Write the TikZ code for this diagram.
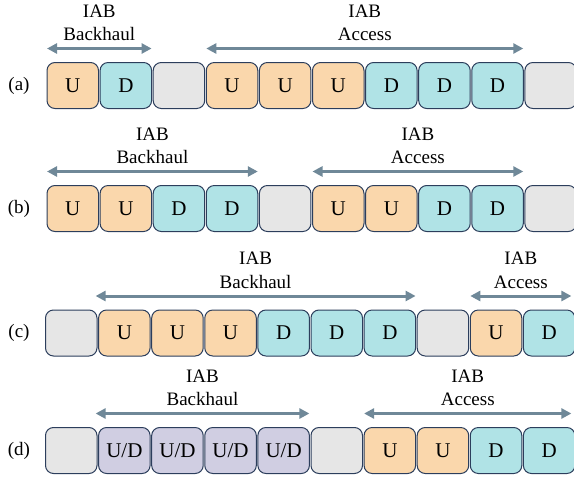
\documentclass[tikz,border=0pt]{standalone}
\usepackage{fontspec}
\setmainfont{Liberation Serif}
\usepackage{xcolor}
\usetikzlibrary{positioning, arrows.meta}

\definecolor{upfill}{HTML}{FAD7AC}
\definecolor{dnfill}{HTML}{B0E3E6}
\definecolor{idfill}{HTML}{E6E6E6}
\definecolor{udfill}{HTML}{D0CEE2}
\definecolor{slotline}{HTML}{2C3E5C}
\definecolor{spanline}{HTML}{6F8898}

\begin{document}
\begin{tikzpicture}[x=1pt, y=1pt,
  font=\fontsize{19}{23.5}\selectfont,
  slot/.style={draw=slotline, line width=1pt, rounded corners=8pt,
    minimum width=51.5pt, minimum height=46pt, inner sep=0pt, outer sep=0pt,
    font=\fontsize{21}{24}\selectfont},
  up/.style={slot, fill=upfill},
  dn/.style={slot, fill=dnfill},
  idle/.style={slot, fill=idfill},
  flex/.style={slot, fill=udfill},
  node distance=1.6pt,
  span/.style={{Triangle[length=10pt,width=10pt]}-{Triangle[length=10pt,width=10pt]},
    line width=3pt, draw=spanline},
  tag/.style={align=center, inner sep=0pt, anchor=south, yshift=6pt}]

  \useasboundingbox (0,0) rectangle (574,-479);
  \clip (0,0) rectangle (574,-479);

  % Row (a): short backhaul, long access
  \node (ra) at (19,-85.5) {(a)};
  \node [up, anchor=west] (a1) at (47,-85.5) {U};
  \node [dn, right=of a1] (a2) {D};
  \node [idle, right=of a2] (a3) {};
  \node [up, right=of a3] (a4) {U};
  \node [up, right=of a4] (a5) {U};
  \node [up, right=of a5] (a6) {U};
  \node [dn, right=of a6] (a7) {D};
  \node [dn, right=of a7] (a8) {D};
  \node [dn, right=of a8] (a9) {D};
  \node [idle, right=of a9] (a10) {};
  \draw [span] ([yshift=14pt]a1.north west)
    -- node [tag] (abh) {IAB\\Backhaul} ([yshift=14pt]a2.north east);
  \draw [span] ([yshift=14pt]a4.north west)
    -- node [tag] (aac) {IAB\\Access} ([yshift=14pt]a9.north east);

  % Row (b): equal split
  \node (rb) at (19,-208.5) {(b)};
  \node [up, anchor=west] (b1) at (47,-208.5) {U};
  \node [up, right=of b1] (b2) {U};
  \node [dn, right=of b2] (b3) {D};
  \node [dn, right=of b3] (b4) {D};
  \node [idle, right=of b4] (b5) {};
  \node [up, right=of b5] (b6) {U};
  \node [up, right=of b6] (b7) {U};
  \node [dn, right=of b7] (b8) {D};
  \node [dn, right=of b8] (b9) {D};
  \node [idle, right=of b9] (b10) {};
  \draw [span] ([yshift=14pt]b1.north west)
    -- node [tag] (bbh) {IAB\\Backhaul} ([yshift=14pt]b4.north east);
  \draw [span] ([yshift=14pt]b6.north west)
    -- node [tag] (bac) {IAB\\Access} ([yshift=14pt]b9.north east);

  % Row (c): long backhaul, short access
  \node (rc) at (19,-333) {(c)};
  \node [idle, anchor=west] (c1) at (45.5,-333) {};
  \node [up, right=of c1] (c2) {U};
  \node [up, right=of c2] (c3) {U};
  \node [up, right=of c3] (c4) {U};
  \node [dn, right=of c4] (c5) {D};
  \node [dn, right=of c5] (c6) {D};
  \node [dn, right=of c6] (c7) {D};
  \node [idle, right=of c7] (c8) {};
  \node [up, right=of c8] (c9) {U};
  \node [dn, right=of c9] (c10) {D};
  \draw [span] ([xshift=-3pt, yshift=14pt]c2.north west)
    -- node [tag] (cbh) {IAB\\Backhaul} ([yshift=14pt]c7.north east);
  \draw [span] ([yshift=14pt]c9.north west)
    -- node [tag] (cac) {IAB\\Access} ([xshift=-3.5pt, yshift=14pt]c10.north east);

  % Row (d): flexible backhaul slots
  \node (rd) at (19,-450.5) {(d)};
  \node [idle, anchor=west] (d1) at (45.5,-450.5) {};
  \node [flex, right=of d1] (d2) {U/D};
  \node [flex, right=of d2] (d3) {U/D};
  \node [flex, right=of d3] (d4) {U/D};
  \node [flex, right=of d4] (d5) {U/D};
  \node [idle, right=of d5] (d6) {};
  \node [up, right=of d6] (d7) {U};
  \node [up, right=of d7] (d8) {U};
  \node [dn, right=of d8] (d9) {D};
  \node [dn, right=of d9] (d10) {D};
  \draw [span] ([xshift=-3pt, yshift=14pt]d2.north west)
    -- node [tag] (dbh) {IAB\\Backhaul} ([yshift=14pt]d5.north east);
  \draw [span] ([yshift=14pt]d7.north west)
    -- node [tag] (dac) {IAB\\Access} ([xshift=-3.5pt, yshift=14pt]d10.north east);
\end{tikzpicture}
\end{document}
